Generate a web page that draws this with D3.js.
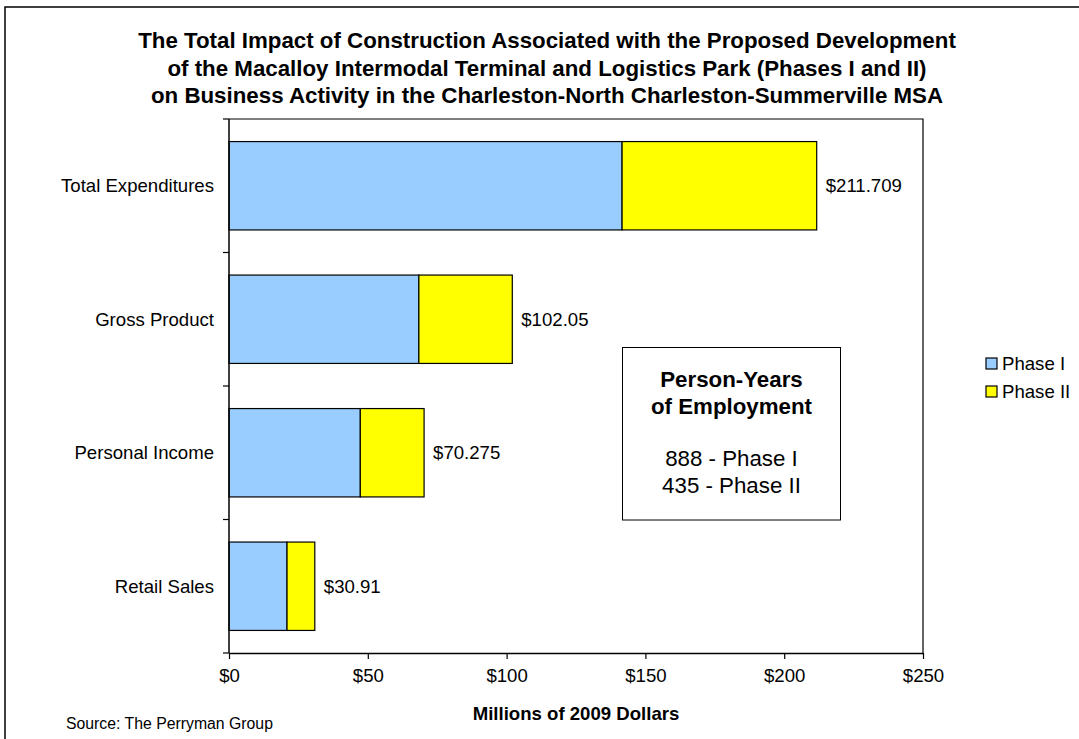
<!DOCTYPE html>
<html>
<head>
<meta charset="utf-8">
<script src="https://cdn.jsdelivr.net/npm/d3@7"></script>
<style>
  html, body { margin: 0; padding: 0; background: #fff; }
  svg { display: block; font-family: Arial, "Liberation Sans", sans-serif; }
</style>
</head>
<body>
<svg id="chart" width="1079" height="739"></svg>
<script>
// Construction impact by measure, millions of 2009 dollars
const categories = ["Total Expenditures", "Gross Product", "Personal Income", "Retail Sales"];
const phase1 = [141.6, 68.4, 47.3, 20.9];
const phase2 = [70.109, 33.65, 22.975, 10.01];
const totalLabels = ["$211.709", "$102.05", "$70.275", "$30.91"];
const xTicks = [0, 50, 100, 150, 200, 250];
const seriesNames = ["Phase I", "Phase II"];
const seriesColors = ["#99CCFF", "#FFFF00"];
const titleLines = [
  "The Total Impact of Construction Associated with the Proposed Development",
  "of the Macalloy Intermodal Terminal and Logistics Park (Phases I and II)",
  "on Business Activity in the Charleston-North Charleston-Summerville MSA"
];
const boxLines = ["Person-Years", "of Employment", "", "888 - Phase I", "435 - Phase II"];

const svg = d3.select("#chart");

// outer chart frame (runs off the right and bottom edges)
svg.append("rect")
  .attr("x", 5).attr("y", 7).attr("width", 1200).attr("height", 900)
  .attr("fill", "#fff").attr("stroke", "#000").attr("stroke-width", 1.5);

const plot = { left: 229, right: 923, top: 119, bottom: 653 };

const x = d3.scaleLinear().domain([0, 250]).range([plot.left, plot.right]);
const y = d3.scaleBand().domain(categories)
  .range([plot.top, plot.bottom])
  .paddingInner(0.338).paddingOuter(0.169);

// title
svg.append("g").selectAll("text").data(titleLines).join("text")
  .attr("x", 547).attr("y", (d, i) => 48 + i * 27.5)
  .attr("text-anchor", "middle")
  .attr("font-size", 22.3).attr("font-weight", "bold").attr("fill", "#000")
  .text(d => d);

// plot area border (top and right edges)
svg.append("path")
  .attr("d", `M${plot.left},${plot.top}H${plot.right}V${plot.bottom}`)
  .attr("fill", "none").attr("stroke", "#000").attr("stroke-width", 1.2);

// stacked bars
const stacked = categories.map((c, i) => ({ cat: c, vals: [phase1[i], phase2[i]] }));
const barG = svg.append("g");
stacked.forEach(d => {
  let acc = 0;
  d.vals.forEach((v, k) => {
    barG.append("rect")
      .attr("x", x(acc))
      .attr("y", y(d.cat))
      .attr("width", x(acc + v) - x(acc))
      .attr("height", y.bandwidth())
      .attr("fill", seriesColors[k])
      .attr("stroke", "#000").attr("stroke-width", 1.2);
    acc += v;
  });
});

// total labels
svg.append("g").selectAll("text").data(stacked).join("text")
  .attr("x", d => x(d3.sum(d.vals)) + 9)
  .attr("y", d => y(d.cat) + y.bandwidth() / 2)
  .attr("dy", "0.35em")
  .attr("font-size", 18.6).attr("fill", "#000")
  .text((d, i) => totalLabels[i]);

// category axis
const yAxisG = svg.append("g");
yAxisG.append("line")
  .attr("x1", plot.left).attr("x2", plot.left)
  .attr("y1", plot.top).attr("y2", plot.bottom)
  .attr("stroke", "#000").attr("stroke-width", 1.5);
d3.range(categories.length + 1).forEach(i => {
  const yy = plot.top + i * y.step();
  yAxisG.append("line")
    .attr("x1", plot.left - 6).attr("x2", plot.left)
    .attr("y1", yy).attr("y2", yy)
    .attr("stroke", "#000").attr("stroke-width", 1.2);
});
yAxisG.selectAll("text").data(categories).join("text")
  .attr("x", plot.left - 15)
  .attr("y", d => y(d) + y.bandwidth() / 2)
  .attr("dy", "0.35em")
  .attr("text-anchor", "end")
  .attr("font-size", 18.6).attr("fill", "#000")
  .text(d => d);

// value axis
const xAxis = d3.axisBottom(x).tickValues(xTicks)
  .tickFormat(d => "$" + d).tickSize(6).tickSizeOuter(0).tickPadding(10);
const xAxisG = svg.append("g")
  .attr("transform", `translate(0,${plot.bottom})`)
  .call(xAxis);
xAxisG.select(".domain").attr("stroke", "#000").attr("stroke-width", 1.5);
xAxisG.selectAll(".tick line").attr("stroke", "#000").attr("stroke-width", 1.2);
xAxisG.selectAll(".tick text")
  .attr("font-size", 18.6).attr("font-family", "Arial, 'Liberation Sans', sans-serif")
  .attr("fill", "#000");

// axis title
svg.append("text")
  .attr("x", 576).attr("y", 713).attr("dy", "0.35em")
  .attr("text-anchor", "middle")
  .attr("font-size", 18.6).attr("font-weight", "bold").attr("fill", "#000")
  .text("Millions of 2009 Dollars");

// source note
svg.append("text")
  .attr("x", 66).attr("y", 723).attr("dy", "0.35em")
  .attr("font-size", 15.8).attr("fill", "#000")
  .text("Source: The Perryman Group");

// employment text box
const box = svg.append("g");
box.append("rect")
  .attr("x", 622.5).attr("y", 347.5).attr("width", 218).attr("height", 172.5)
  .attr("fill", "#fff").attr("stroke", "#000").attr("stroke-width", 1);
const boxY = [379, 406, 0, 458, 485];
box.selectAll("text").data(boxLines.map((t, i) => ({ t, i })).filter(d => d.t))
  .join("text")
  .attr("x", 731.5).attr("y", d => boxY[d.i]).attr("dy", "0.35em")
  .attr("text-anchor", "middle")
  .attr("font-size", 22.3)
  .attr("font-weight", d => d.i < 2 ? "bold" : "normal")
  .attr("fill", "#000")
  .text(d => d.t);

// legend
const legend = svg.append("g").attr("transform", "translate(986,358)");
seriesNames.forEach((name, i) => {
  const g = legend.append("g").attr("transform", `translate(0,${i * 28})`);
  g.append("rect").attr("x", 0).attr("y", 0).attr("width", 11).attr("height", 11)
    .attr("fill", seriesColors[i]).attr("stroke", "#000").attr("stroke-width", 1.2);
  g.append("text").attr("x", 16).attr("y", 5.5).attr("dy", "0.35em")
    .attr("font-size", 18.6).attr("fill", "#000").text(name);
});
</script>
</body>
</html>
